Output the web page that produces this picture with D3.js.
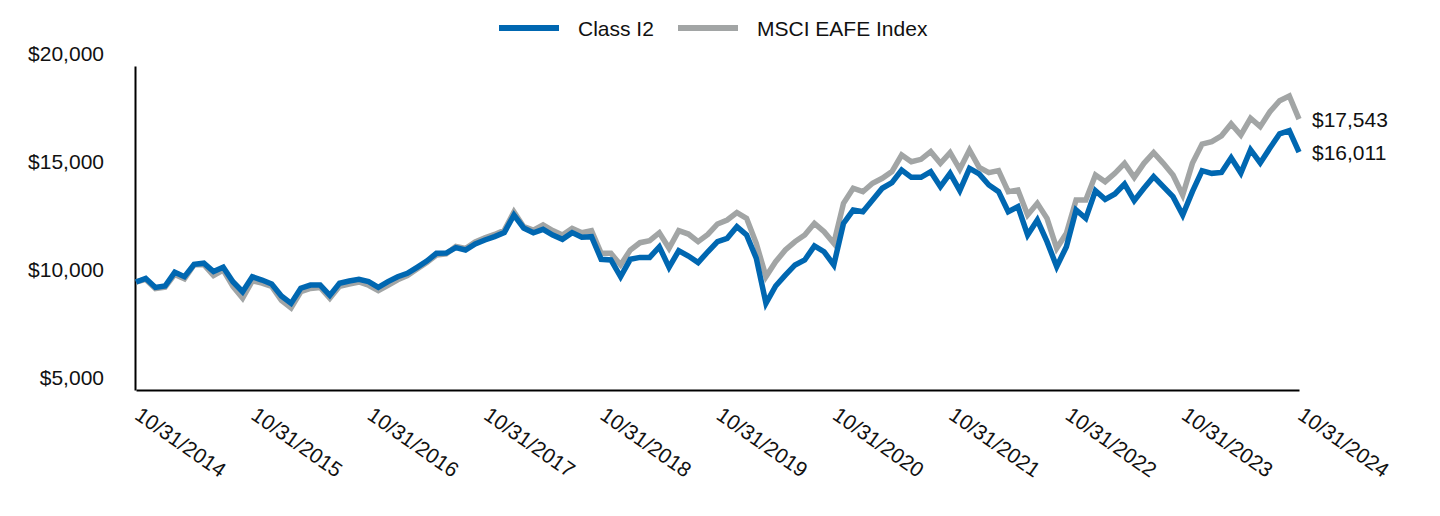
<!DOCTYPE html>
<meta charset="utf-8">
<title>Class I2 vs MSCI EAFE Index</title>
<style>
body { margin: 0; background: #fff; font-family: 'Liberation Sans', Arial, sans-serif; }
svg { display: block; }
.axis path { stroke: #000; stroke-width: 2px; }
.axis text { font-family: 'Liberation Sans', Arial, sans-serif; font-size: 21px; fill: #111; }
.lbl { font-size: 21px; fill: #111; }
</style>
<svg id="chart" width="1440" height="516"></svg>
<script src="https://cdnjs.cloudflare.com/ajax/libs/d3/7.8.5/d3.min.js"></script>
<script>
// month-end values, 10/31/2014 .. 10/31/2024 (121 points)
var classI2 = [
  10000, 10170, 9750, 9815, 10450, 10245, 10820, 10870, 10480, 10680, 10015, 9550,
  10245, 10090, 9910, 9350, 9010, 9710, 9860, 9860, 9380, 9940, 10045, 10120,
  10015, 9755, 10015, 10245, 10400, 10680, 10970, 11330, 11340, 11590, 11480, 11760,
  11945, 12100, 12285, 13100, 12500, 12280, 12440, 12175, 11975, 12285, 12070, 12100,
  11050, 11020, 10250, 11050, 11140, 11140, 11630, 10680, 11450, 11200, 10900, 11400,
  11870, 12020, 12560, 12180, 11100, 9010, 9815, 10320, 10790, 11020, 11670, 11400,
  10790, 12715, 13330, 13255, 13800, 14340, 14600, 15185, 14846, 14846, 15108, 14413,
  15031, 14228, 15262, 15000, 14491, 14182, 13255, 13486, 12176, 12870, 11867, 10710,
  11634, 13333, 12947, 14228, 13827, 14074, 14537, 13765, 14336, 14877, 14413, 13950,
  13102, 14182, 15154, 15030, 15070, 15750, 15045, 16125, 15510, 16200, 16860, 17006,
  16011
];
var msciEafe = [
  10000, 10120, 9700, 9760, 10350, 10150, 10800, 10800, 10300, 10550, 9800, 9250,
  10050, 9950, 9800, 9150, 8800, 9550, 9700, 9750, 9250, 9800, 9900, 10000,
  9850, 9600, 9850, 10100, 10300, 10600, 10900, 11250, 11300, 11650, 11550, 11850,
  12050, 12200, 12400, 13250, 12560, 12400, 12640, 12380, 12180, 12480, 12280, 12380,
  11330, 11330, 10790, 11480, 11820, 11910, 12280, 11560, 12380, 12220, 11870, 12200,
  12685, 12870, 13210, 12950, 11790, 10250, 10940, 11480, 11870, 12180, 12715, 12330,
  11790, 13640, 14340, 14180, 14570, 14800, 15110, 15880, 15570, 15680, 16033, 15494,
  15988, 15216, 16111, 15308, 15062, 15154, 14182, 14259, 13102, 13642, 12947, 11558,
  12253, 13796, 13796, 14954, 14645, 15031, 15494, 14846, 15494, 15988, 15494, 14954,
  14028, 15494, 16389, 16500, 16770, 17320, 16806, 17580, 17191, 17886, 18395, 18611,
  17543
];
var tickLabels = ["10/31/2014", "10/31/2015", "10/31/2016", "10/31/2017", "10/31/2018",
  "10/31/2019", "10/31/2020", "10/31/2021", "10/31/2022", "10/31/2023", "10/31/2024"];
var yTicks = [5000, 10000, 15000, 20000];
var seriesNames = ["Class I2", "MSCI EAFE Index"];
var endLabels = ["$16,011", "$17,543"];

var blue = "#0067b1", grey = "#a2a5a5";

var svg = d3.select("#chart");

var x = d3.scaleLinear().domain([0, classI2.length - 1]).range([136, 1299]);
var y = d3.scaleLinear().domain([5000, 20000]).range([390, 66]);

// axes
var xAxis = d3.axisBottom(x)
    .tickValues(tickLabels.map(function(d, i) { return i * 12; }))
    .tickFormat(function(d) { return tickLabels[d / 12]; })
    .tickSize(0).tickSizeOuter(0);

var gx = svg.append("g")
    .attr("class", "axis")
    .attr("transform", "translate(0,390)")
    .call(xAxis);
gx.selectAll(".tick text")
    .attr("text-anchor", "start")
    .attr("dy", null)
    .attr("y", null)
    .attr("transform", "translate(-3,28) rotate(35)");

var gy = svg.append("g")
    .attr("class", "axis")
    .attr("transform", "translate(135,0)")
    .call(d3.axisLeft(y).tickValues(yTicks).tickFormat(d3.format("$,")).tickSize(0).tickSizeOuter(0));
gy.selectAll(".tick text")
    .attr("x", -31)
    .attr("dy", null)
    .attr("y", -6);

// lines
var line = d3.line()
    .x(function(d, i) { return x(i); })
    .y(function(d) { return y(d); });

svg.append("path")
    .datum(msciEafe)
    .attr("fill", "none")
    .attr("stroke", grey)
    .attr("stroke-width", 5.5)
    .attr("d", line);

svg.append("path")
    .datum(classI2)
    .attr("fill", "none")
    .attr("stroke", blue)
    .attr("stroke-width", 5.5)
    .attr("d", line);

// end value labels
var last = classI2.length - 1;
svg.append("text").attr("class", "lbl")
    .attr("x", x(last) + 13).attr("y", y(classI2[last]) + 7.5)
    .text(endLabels[0]);
svg.append("text").attr("class", "lbl")
    .attr("x", x(last) + 13).attr("y", y(msciEafe[last]) + 7.5)
    .text(endLabels[1]);

// legend
var legend = svg.append("g");
var legX = [499, 678], legCol = [blue, grey];
seriesNames.forEach(function(name, i) {
  legend.append("line")
      .attr("x1", legX[i]).attr("x2", legX[i] + 60)
      .attr("y1", 28).attr("y2", 28)
      .attr("stroke", legCol[i]).attr("stroke-width", 6);
  legend.append("text").attr("class", "lbl")
      .attr("x", legX[i] + 79).attr("y", 36)
      .text(name);
});
</script>
